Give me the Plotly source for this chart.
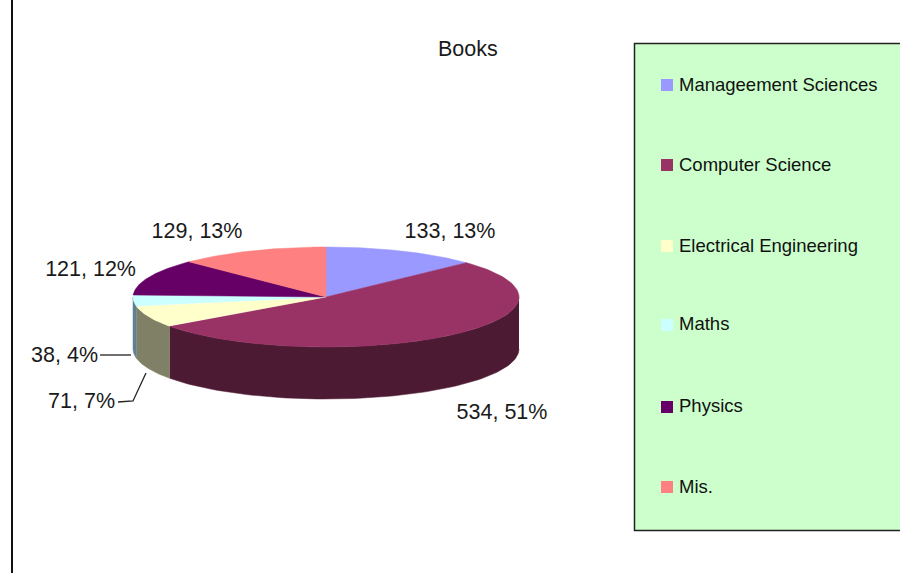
import numpy as np
import plotly.graph_objects as go

categories = ["Manageement Sciences", "Computer Science", "Electrical Engineering", "Maths", "Physics", "Mis."]
values = [133, 534, 71, 38, 121, 129]
percents = [13, 51, 7, 4, 12, 13]
top_colors = ["#9999FF", "#993366", "#FFFFCC", "#CCFFFF", "#660066", "#FF8080"]
side_colors = ["#4D4D80", "#4D1A33", "#808066", "#5F8090", "#330033", "#804040"]
title = "Books"

# projection of the pie in page pixels
CX, CY, RX, RY, DEPTH = 326, 297, 193, 50, 52
FONT = "Liberation Sans, Arial, sans-serif"
LABEL_FS = 21.5
LEGEND_FS = 18.5
TXT = "#1a1a1a"

# label anchors
label_x = [450, 502, 115, 98, 136, 197]
label_y = [233, 414, 403, 357, 271, 233]
label_pos = ["middle center", "middle center", "middle left", "middle left", "middle left", "middle center"]
leader_x = [[100, 131], [118, 133, 146]]
leader_y = [[355, 355], [402, 401, 373]]
legend_y = [85, 165, 246, 325, 407, 487]
legend_text_y = [86, 166, 247, 325, 407, 488]


def ellipse(theta, dy=0):
    return CX + RX * np.sin(theta), CY - RY * np.cos(theta) + dy


fig = go.Figure()
edges = np.deg2rad(np.cumsum([0] + values) / sum(values) * 360)

# outer walls (only the front half of the pie is seen)
for i in range(len(values)):
    a, b = max(edges[i], np.pi / 2), min(edges[i + 1], 3 * np.pi / 2)
    if b <= a:
        continue
    t = np.linspace(a, b, 80)
    x1, y1 = ellipse(t)
    x2, y2 = ellipse(t[::-1], DEPTH)
    fig.add_trace(go.Scatter(x=np.r_[x1, x2], y=np.r_[y1, y2], mode="lines", fill="toself",
                             fillcolor=side_colors[i], line=dict(color=side_colors[i], width=0.5),
                             hoverinfo="skip"))

# top faces
for i in range(len(values)):
    t = np.linspace(edges[i], edges[i + 1], 120)
    x, y = ellipse(t)
    fig.add_trace(go.Scatter(x=np.r_[CX, x, CX], y=np.r_[CY, y, CY], mode="lines", fill="toself",
                             fillcolor=top_colors[i], line=dict(color=top_colors[i], width=0.5),
                             name=categories[i], hoverinfo="skip"))

# leader lines
for lx, ly in zip(leader_x, leader_y):
    fig.add_trace(go.Scatter(x=lx, y=ly, mode="lines", line=dict(color="#222222", width=1.3), hoverinfo="skip"))

# data labels
fig.add_trace(go.Scatter(
    x=label_x, y=label_y, mode="text",
    text=[f"{v}, {p}%" for v, p in zip(values, percents)],
    textposition=label_pos, textfont=dict(family=FONT, size=LABEL_FS, color=TXT), hoverinfo="skip"))

# legend
fig.add_trace(go.Scatter(x=[667] * 6, y=legend_y, mode="markers",
                         marker=dict(symbol="square", size=12, color=top_colors), hoverinfo="skip"))
fig.add_trace(go.Scatter(x=[679] * 6, y=legend_text_y, mode="text", text=categories, textposition="middle right",
                         textfont=dict(family=FONT, size=LEGEND_FS, color="#111111"), hoverinfo="skip"))

fig.update_layout(
    width=900, height=573, margin=dict(l=0, r=0, t=0, b=0), showlegend=False,
    paper_bgcolor="white", plot_bgcolor="white",
    xaxis=dict(range=[0, 900], visible=False, fixedrange=True),
    yaxis=dict(range=[573, 0], visible=False, fixedrange=True),
    shapes=[
        dict(type="rect", x0=634.5, x1=910, y0=43.5, y1=530.5, fillcolor="#CCFFCC",
             line=dict(color="#222222", width=1.5), layer="below"),
        dict(type="line", x0=12, x1=12, y0=0, y1=573, line=dict(color="#111111", width=2), layer="below"),
    ],
    annotations=[dict(x=468, y=49, text=title, showarrow=False, xanchor="center", yanchor="middle",
                      font=dict(family=FONT, size=LABEL_FS, color=TXT))],
)
fig.write_html("out.html", config={"displayModeBar": False},
               post_script="document.body.style.margin='0';document.body.style.overflow='hidden';")
